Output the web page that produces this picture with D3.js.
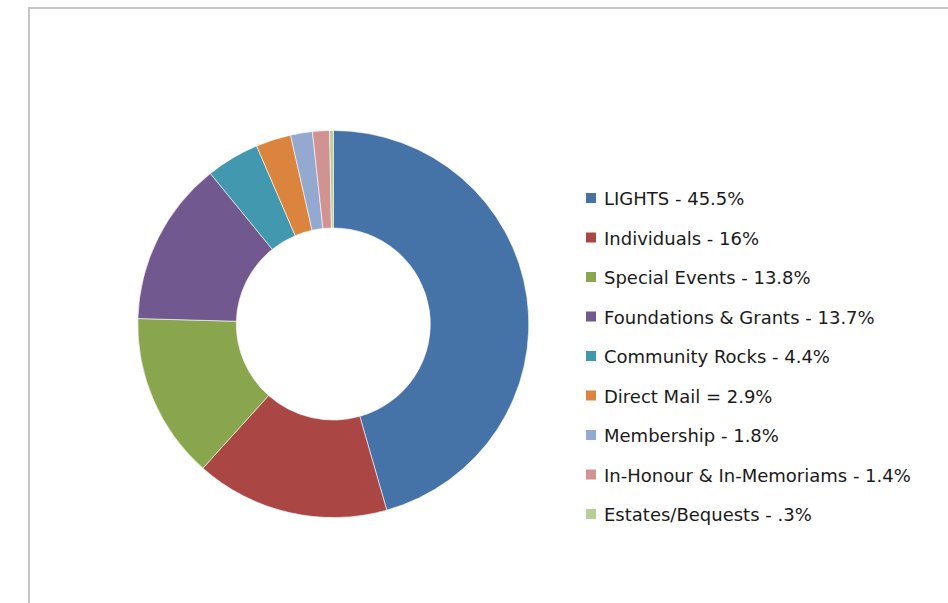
<!DOCTYPE html>
<html>
<head>
<meta charset="utf-8">
<script src="https://cdn.jsdelivr.net/npm/d3@7"></script>
<style>
  html, body { margin: 0; padding: 0; background: #ffffff; }
  svg { display: block; }
</style>
</head>
<body>
<svg id="chart" width="948" height="603"></svg>
<script>
const categories = [
  "LIGHTS", "Individuals", "Special Events", "Foundations & Grants",
  "Community Rocks", "Direct Mail", "Membership",
  "In-Honour & In-Memoriams", "Estates/Bequests"
];
const values = [45.5, 16, 13.8, 13.7, 4.4, 2.9, 1.8, 1.4, 0.3];
const legendLabels = [
  "LIGHTS - 45.5%", "Individuals - 16%", "Special Events - 13.8%",
  "Foundations & Grants - 13.7%", "Community Rocks - 4.4%",
  "Direct Mail = 2.9%", "Membership - 1.8%",
  "In-Honour & In-Memoriams - 1.4%", "Estates/Bequests - .3%"
];
const colors = ["#4572A7", "#AA4643", "#89A54E", "#71588F", "#4198AF",
                "#DB843D", "#93A9CF", "#D19392", "#B9CD96"];

const svg = d3.select("#chart");

// chart frame
svg.append("rect")
  .attr("x", 29).attr("y", 8)
  .attr("width", 1000).attr("height", 700)
  .attr("fill", "none")
  .attr("stroke", "#c6c6c6")
  .attr("stroke-width", 2);

const data = categories.map((c, i) => ({ name: c, value: values[i], label: legendLabels[i] }));
const color = d3.scaleOrdinal().domain(categories).range(colors);

const pie = d3.pie().value(d => d.value).sort(null);
const arc = d3.arc().innerRadius(97).outerRadius(195.5);

const g = svg.append("g").attr("transform", "translate(333.3,324) scale(1,0.99)");
g.selectAll("path")
  .data(pie(data))
  .join("path")
  .attr("d", arc)
  .attr("fill", d => color(d.data.name))
  .attr("stroke", "#ffffff")
  .attr("stroke-width", 0.6);

// legend
const legendY = d3.scalePoint().domain(categories).range([0, 316]);
const lg = svg.append("g").attr("transform", "translate(586,205)");
const items = lg.selectAll("g")
  .data(data)
  .join("g")
  .attr("transform", d => `translate(0,${legendY(d.name)})`);
items.append("rect")
  .attr("x", 0).attr("y", -12)
  .attr("width", 10).attr("height", 10)
  .attr("fill", d => color(d.name));
items.append("text")
  .attr("x", 18).attr("y", 0)
  .attr("font-family", "'DejaVu Sans', sans-serif")
  .attr("font-size", 18)
  .attr("fill", "#1a1a1a")
  .text(d => d.label);
</script>
</body>
</html>
